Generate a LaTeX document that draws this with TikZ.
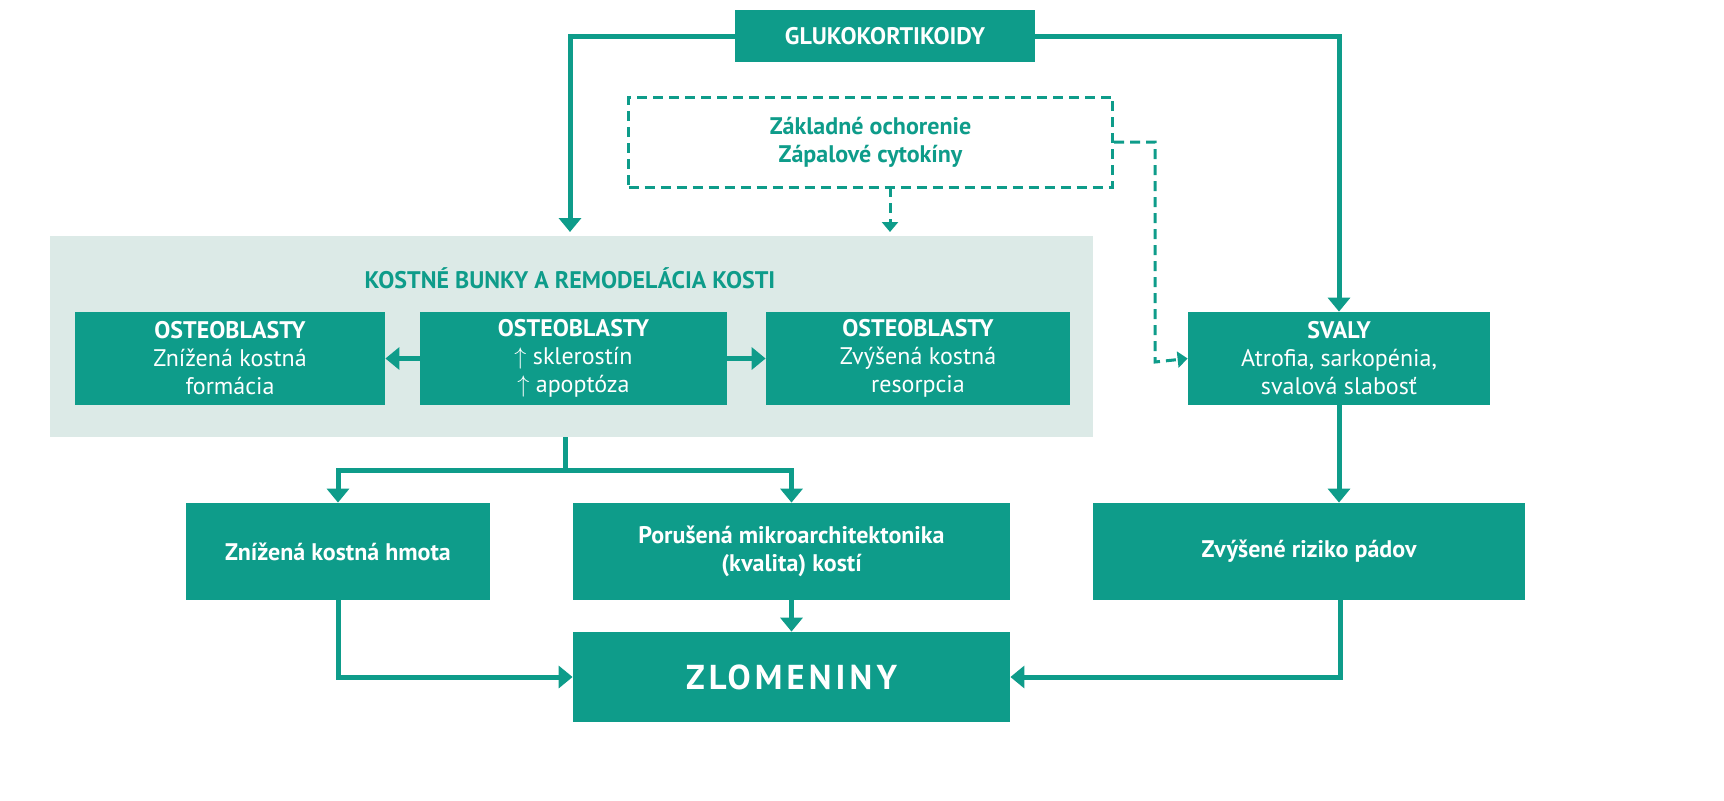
\documentclass[tikz,border=0pt]{standalone}
\usepackage{fontspec}
\setmainfont{PT Sans}
\usetikzlibrary{arrows.meta}
\definecolor{teal1}{HTML}{0E9C8A}
\definecolor{bgpale}{HTML}{DCEAE7}
\begin{document}
\begin{tikzpicture}[x=0.5pt, y=-0.5pt,
    box/.style={fill=teal1, text=white, font=\bfseries\large, align=center, inner sep=0pt},
    arr/.style={draw=teal1, line width=2.5pt, -{Triangle[width=11pt,length=7pt]}},
    darr/.style={draw=teal1, line width=1.5pt, dash pattern=on 5pt off 3pt, -{Triangle[width=8pt,length=5pt]}}]

  \fill[bgpale] (50,236) rectangle (1093,437);
  \coordinate (bgs) at (565,437);

  \node[box, minimum width=150pt, minimum height=26pt] (gluko) at (885,36) {GLUKOKORTIKOIDY};
  \node[draw=teal1, dash pattern=on 5pt off 3pt, line width=1.5pt, text=teal1, font=\bfseries\large,
        align=center, minimum width=242pt, minimum height=45pt] (zakl) at (870.5,142) {Základné ochorenie\\Zápalové cytokíny};
  \node[text=teal1, font=\bfseries\large] (title) at (570,278) {KOSTNÉ BUNKY A REMODELÁCIA KOSTI};

  \node[box, minimum width=155pt, minimum height=46.5pt] (ob1) at (230,358.5) {OSTEOBLASTY\\\mdseries Znížená kostná\\\mdseries formácia};
  \node[box, minimum width=153.5pt, minimum height=46.5pt] (ob2) at (573.5,358.5) {OSTEOBLASTY\\\mdseries $\uparrow$ sklerostín\\\mdseries $\uparrow$ apoptóza};
  \node[box, minimum width=152pt, minimum height=46.5pt] (ob3) at (918,358.5) {OSTEOBLASTY\\\mdseries Zvýšená kostná\\\mdseries resorpcia};
  \node[box, minimum width=151pt, minimum height=46.5pt] (svaly) at (1339,358.5) {SVALY\\\mdseries Atrofia, sarkopénia,\\\mdseries svalová slabosť};

  \node[box, minimum width=152pt, minimum height=48.5pt] (hmota) at (338,551.5) {Znížená kostná hmota};
  \node[box, minimum width=218.5pt, minimum height=48.5pt] (mikro) at (791.5,551.5) {Porušená mikroarchitektonika\\(kvalita) kostí};
  \node[box, minimum width=216pt, minimum height=48.5pt] (riziko) at (1309,551.5) {Zvýšené riziko pádov};
  \node[box, minimum width=218.5pt, minimum height=45pt, font=\bfseries\LARGE] (zlom) at (791.5,677) {\addfontfeature{LetterSpace=12}ZLOMENINY};

  \coordinate (split) at (565,470);
  \coordinate (dz) at (890,187);
  \coordinate (rz) at (1340,600);

  % glukokortikoidy
  \draw[arr] (gluko.west) -| (570,232);
  \draw[arr] (gluko.east) -| (svaly.north);
  \draw[darr] (dz) -- (890,232);
  \draw[darr] (zakl.east) -| (1155,362) -- (svaly.west);

  % kostne bunky
  \draw[arr] (ob2) -- (ob1);
  \draw[arr] (ob2) -- (ob3);
  \draw[draw=teal1, line width=2.5pt] (bgs) -- (split);
  \draw[arr] (split) -| (hmota.north);
  \draw[arr] (split) -| (mikro.north);
  \draw[arr] (svaly.south) -- (svaly.south |- riziko.north);

  % zlomeniny
  \draw[arr] (mikro) -- (zlom);
  \draw[arr] (hmota.south) |- (zlom.west);
  \draw[arr] (rz) |- (zlom.east);

  \pgfresetboundingbox
  \useasboundingbox (0,0) rectangle (1724,800);
\end{tikzpicture}
\end{document}
